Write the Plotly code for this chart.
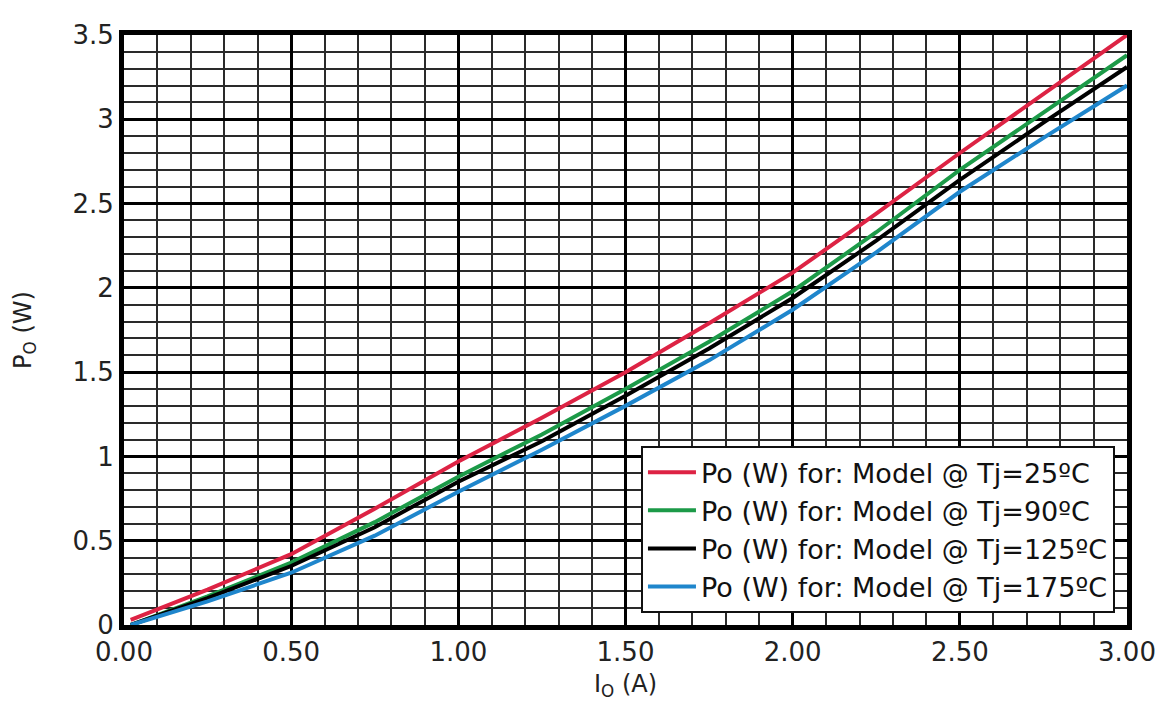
import plotly.graph_objects as go

# Output current Io (A)
io_a = [0.02, 0.25, 0.5, 0.75, 1.0, 1.25, 1.5, 1.75, 2.0, 2.25, 2.5, 2.75, 3.0]

# Output power Po (W) for each junction temperature
po_25 = [0.03, 0.21, 0.42, 0.69, 0.97, 1.23, 1.50, 1.79, 2.09, 2.44, 2.80, 3.15, 3.50]
po_90 = [0.00, 0.17, 0.37, 0.61, 0.88, 1.13, 1.40, 1.68, 1.98, 2.33, 2.70, 3.04, 3.38]
po_125 = [0.00, 0.16, 0.35, 0.58, 0.85, 1.09, 1.36, 1.64, 1.94, 2.28, 2.64, 2.98, 3.31]
po_175 = [0.00, 0.14, 0.31, 0.53, 0.79, 1.04, 1.30, 1.57, 1.87, 2.21, 2.57, 2.89, 3.20]

series_names = [
    "Po (W) for: Model @ Tj=25ºC",
    "Po (W) for: Model @ Tj=90ºC",
    "Po (W) for: Model @ Tj=125ºC",
    "Po (W) for: Model @ Tj=175ºC",
]
series_values = [po_25, po_90, po_125, po_175]
series_colors = ["#dd2344", "#1c9a48", "#000000", "#1f86cc"]

x_tickvals = [0.0, 0.5, 1.0, 1.5, 2.0, 2.5, 3.0]
x_ticktext = ["0.00", "0.50", "1.00", "1.50", "2.00", "2.50", "3.00"]
y_tickvals = [0, 0.5, 1, 1.5, 2, 2.5, 3, 3.5]
y_ticktext = ["0", "0.5", "1", "1.5", "2", "2.5", "3", "3.5"]

fig = go.Figure()
for name, vals, col in zip(series_names, series_values, series_colors):
    fig.add_trace(go.Scatter(
        x=io_a, y=vals, mode="lines", name=name,
        line=dict(color=col, width=4),
    ))

font_family = "DejaVu Sans, Liberation Sans, Arial, sans-serif"

fig.update_layout(
    width=1160, height=699,
    margin=dict(l=114, r=38, t=14, b=82),
    paper_bgcolor="white", plot_bgcolor="white",
    font=dict(family=font_family, color="#222222"),
    showlegend=True,
    legend=dict(
        x=0.988, xanchor="right", y=0.02, yanchor="bottom",
        bgcolor="white", bordercolor="#111111", borderwidth=2,
        font=dict(size=27, color="#111111", family=font_family),
        tracegroupgap=0, itemwidth=48,
    ),
    xaxis=dict(
        range=[0, 3.0], tickvals=x_tickvals, ticktext=x_ticktext,
        showgrid=True, gridcolor="#000000", gridwidth=3,
        minor=dict(dtick=0.1, showgrid=True, gridcolor="#2a2a2a", gridwidth=1.6),
        showline=True, linecolor="#000000", linewidth=5, mirror=True,
        ticks="", tickfont=dict(size=26, color="#222222"),
        zeroline=False,
        title=dict(text="I<sub>O</sub> (A)", font=dict(size=24, color="#222222"), standoff=10),
    ),
    yaxis=dict(
        range=[0, 3.5], tickvals=y_tickvals, ticktext=y_ticktext,
        showgrid=True, gridcolor="#000000", gridwidth=3,
        minor=dict(dtick=0.1, showgrid=True, gridcolor="#2a2a2a", gridwidth=1.6),
        showline=True, linecolor="#000000", linewidth=5, mirror=True,
        ticks="", tickfont=dict(size=26, color="#222222"),
        zeroline=False, ticklabelstandoff=0,
        title=dict(text="P<sub>O</sub> (W)", font=dict(size=24, color="#222222"), standoff=36),
    ),
)

fig.write_html("out.html")
